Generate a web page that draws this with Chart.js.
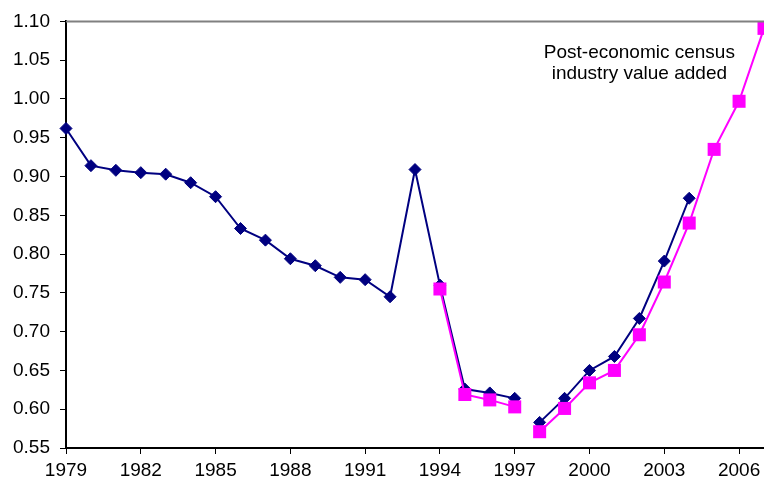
<!DOCTYPE html>
<html>
<head>
<meta charset="utf-8">
<script src="https://cdn.jsdelivr.net/npm/chart.js@4/dist/chart.umd.min.js"></script>
<style>
  html, body { margin: 0; padding: 0; background: #fff; }
  #wrap { width: 764px; height: 480px; }
</style>
</head>
<body>
<div id="wrap"><canvas id="c" width="764" height="480"></canvas></div>
<script>
// ---- data ----
const originalYears = [1979,1980,1981,1982,1983,1984,1985,1986,1987,1988,1989,1990,1991,1992,1993,1994,1995,1996,1997,1998,1999,2000,2001,2002,2003,2004];
const originalValues = [0.962,0.914,0.908,0.905,0.903,0.892,0.874,0.833,0.818,0.794,0.785,0.770,0.767,0.745,0.909,0.760,0.626,0.621,0.614,0.583,0.614,0.650,0.668,0.717,0.791,0.872];
const censusYears = [1994,1995,1996,1997,1998,1999,2000,2001,2002,2003,2004,2005,2006,2007];
const censusValues = [0.755,0.619,0.612,0.603,0.571,0.601,0.634,0.650,0.696,0.764,0.840,0.935,0.997,1.091];
const xTickYears = [1979,1982,1985,1988,1991,1994,1997,2000,2003,2006];
const yTickValues = [0.55,0.60,0.65,0.70,0.75,0.80,0.85,0.90,0.95,1.00,1.05,1.10];
const breakAfterYear = 1997;
const noteLines = ['Post-economic census', 'industry value added'];

const FONT = '"Liberation Sans", Arial, sans-serif';
const toPoints = (xs, ys) => xs.map((x, i) => ({ x: x, y: ys[i] }));
const gapSegment = (color) => ({
  borderColor: ctx => ctx.p0.parsed.x === breakAfterYear ? 'rgba(0,0,0,0)' : color
});

const frame = {
  id: 'frame',
  afterDraw(chart) {
    const { ctx, chartArea, scales } = chart;
    ctx.save();
    ctx.strokeStyle = '#808080';
    ctx.lineWidth = 2;
    ctx.beginPath();
    ctx.moveTo(chartArea.left, chartArea.top);
    ctx.lineTo(chart.width, chartArea.top);
    ctx.stroke();
    ctx.fillStyle = '#000';
    ctx.font = '19px ' + FONT;
    ctx.textAlign = 'center';
    ctx.textBaseline = 'middle';
    const x = scales.x.getPixelForValue(2002);
    ctx.fillText(noteLines[0], x, scales.y.getPixelForValue(1.059));
    ctx.fillText(noteLines[1], x, scales.y.getPixelForValue(1.032));
    ctx.restore();
  }
};

new Chart(document.getElementById('c'), {
  type: 'line',
  data: {
    datasets: [
      {
        label: 'Post-economic census industry value added',
        data: toPoints(censusYears, censusValues),
        borderColor: '#FF00FF',
        backgroundColor: '#FF00FF',
        borderWidth: 2,
        pointStyle: 'rect',
        pointRadius: 9.2,
        pointBorderWidth: 0,
        pointBackgroundColor: '#FF00FF',
        segment: gapSegment('#FF00FF'),
        order: 0,
        clip: false
      },
      {
        label: 'Original',
        data: toPoints(originalYears, originalValues),
        borderColor: '#000080',
        backgroundColor: '#000080',
        borderWidth: 2,
        pointStyle: 'rectRot',
        pointRadius: 6,
        pointBorderWidth: 1,
        pointBackgroundColor: '#000080',
        segment: gapSegment('#000080'),
        order: 1,
        clip: false
      }
    ]
  },
  options: {
    responsive: false,
    animation: false,
    events: [],
    layout: { autoPadding: false, padding: { top: 19, right: 0, left: 0, bottom: 0 } },
    plugins: { legend: { display: false }, tooltip: { enabled: false } },
    scales: {
      x: {
        type: 'linear',
        min: 1979,
        max: 2007,
        afterBuildTicks: axis => { axis.ticks = xTickYears.map(v => ({ value: v })); },
        afterFit: axis => { axis.height = 32; axis.paddingLeft = 0; axis.paddingRight = 0; },
        ticks: {
          autoSkip: false,
          maxRotation: 0,
          padding: 5,
          color: '#000',
          font: { family: FONT, size: 19 },
          callback: v => String(v)
        },
        grid: { drawOnChartArea: false, tickLength: 6, color: '#000', tickWidth: 1 },
        border: { color: '#000', width: 2 }
      },
      y: {
        min: 0.55,
        max: 1.10,
        afterBuildTicks: axis => { axis.ticks = yTickValues.map(v => ({ value: v })); },
        afterFit: axis => { axis.width = 66; },
        ticks: {
          padding: 10,
          color: '#000',
          font: { family: FONT, size: 19 },
          callback: v => Number(v).toFixed(2)
        },
        grid: { drawOnChartArea: false, tickLength: 6, color: '#000', tickWidth: 1 },
        border: { color: '#000', width: 2 }
      }
    }
  },
  plugins: [frame]
});
</script>
</body>
</html>
